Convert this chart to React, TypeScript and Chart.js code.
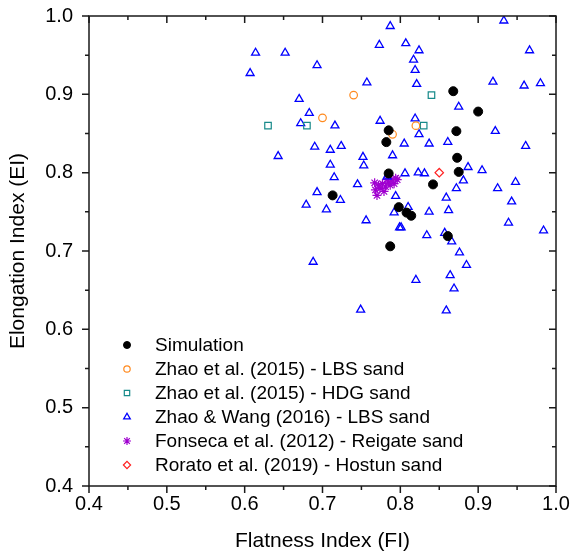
import React, { useEffect, useRef } from 'react';
import { Chart, registerables } from 'chart.js';
import { drawPoint } from 'chart.js/helpers';

Chart.register(...registerables);

// ---- Data ----
const simFI = [0.785, 0.782, 0.868, 0.900, 0.872, 0.873, 0.875, 0.785, 0.842, 0.713, 0.798, 0.808, 0.814, 0.861, 0.787];
const simEI = [0.854, 0.839, 0.904, 0.878, 0.853, 0.819, 0.801, 0.799, 0.785, 0.771, 0.756, 0.749, 0.745, 0.719, 0.706];

const zhaoLbsFI = [0.740, 0.700, 0.820, 0.790];
const zhaoLbsEI = [0.899, 0.870, 0.860, 0.849];

const zhaoHdgFI = [0.630, 0.680, 0.840, 0.830];
const zhaoHdgEI = [0.860, 0.860, 0.899, 0.860];

const zhaoWangFI = [
  0.787, 0.933, 0.773, 0.807, 0.824, 0.966, 0.817, 0.819, 0.821, 0.919,
  0.959, 0.980, 0.875, 0.819, 0.824, 0.922, 0.805, 0.837, 0.861, 0.961,
  0.790, 0.887, 0.905, 0.614, 0.652, 0.693, 0.607, 0.757, 0.670, 0.683,
  0.774, 0.672, 0.716, 0.690, 0.710, 0.724, 0.643, 0.752, 0.710, 0.753,
  0.715, 0.745, 0.693, 0.723, 0.679, 0.705, 0.756, 0.688, 0.749, 0.806,
  0.823, 0.831, 0.881, 0.872, 0.925, 0.948, 0.794, 0.859, 0.943, 0.810,
  0.792, 0.837, 0.862, 0.939, 0.799, 0.801, 0.984, 0.834, 0.857, 0.866,
  0.876, 0.885, 0.864, 0.820, 0.869, 0.859, 0.783,
];
const zhaoWangEI = [
  0.987, 0.994, 0.963, 0.965, 0.956, 0.956, 0.944, 0.931, 0.913, 0.916,
  0.911, 0.914, 0.884, 0.869, 0.849, 0.853, 0.837, 0.837, 0.839, 0.834,
  0.822, 0.807, 0.803, 0.953, 0.953, 0.937, 0.927, 0.915, 0.894, 0.876,
  0.866, 0.863, 0.860, 0.833, 0.829, 0.834, 0.821, 0.820, 0.810, 0.809,
  0.794, 0.785, 0.775, 0.765, 0.759, 0.753, 0.739, 0.686, 0.625, 0.799,
  0.800, 0.799, 0.790, 0.780, 0.780, 0.788, 0.770, 0.768, 0.763, 0.756,
  0.749, 0.750, 0.752, 0.736, 0.730, 0.730, 0.726, 0.720, 0.723, 0.712,
  0.698, 0.682, 0.669, 0.663, 0.652, 0.624, 0.795,
];

const fonsecaFI = [0.768, 0.770, 0.772, 0.777, 0.781, 0.785, 0.789, 0.794, 0.796, 0.779, 0.774, 0.792, 0.783, 0.787, 0.767];
const fonsecaEI = [0.778, 0.771, 0.784, 0.786, 0.782, 0.788, 0.791, 0.793, 0.791, 0.776, 0.780, 0.786, 0.791, 0.784, 0.787];

const roratoFI = [0.850];
const roratoEI = [0.800];

const axisMin = 0.4;
const axisMax = 1.0;
const majorTicks = [0.4, 0.5, 0.6, 0.7, 0.8, 0.9, 1.0];
const minorTicks = [0.45, 0.55, 0.65, 0.75, 0.85, 0.95];

const FONT = "'Liberation Sans', Arial, sans-serif";

const pts = (xs: number[], ys: number[]) => xs.map((x, i) => ({ x, y: ys[i] }));

const framePlugin = {
  id: 'frameTicks',
  afterDraw(chart: any) {
    const { ctx, chartArea, scales } = chart;
    const { left, right, top, bottom } = chartArea;
    const xs = scales.x;
    const ys = scales.y;
    ctx.save();
    ctx.strokeStyle = '#1a1a1a';
    ctx.lineWidth = 1.5;
    ctx.beginPath();
    const tick = (v: number, len: number) => {
      const px = xs.getPixelForValue(v);
      ctx.moveTo(px, bottom); ctx.lineTo(px, bottom + len);
      ctx.moveTo(px, top); ctx.lineTo(px, top + len);
      const py = ys.getPixelForValue(v);
      ctx.moveTo(left, py); ctx.lineTo(left - len, py);
      ctx.moveTo(right, py); ctx.lineTo(right - len, py);
    };
    majorTicks.forEach((v) => tick(v, 7));
    minorTicks.forEach((v) => tick(v, 4));
    ctx.stroke();
    ctx.strokeRect(left, top, right - left, bottom - top);
    ctx.restore();
  },
};

const legendPlugin = {
  id: 'customLegend',
  afterDraw(chart: any) {
    const { ctx, chartArea } = chart;
    const mx = chartArea.left + 38;
    const tx = chartArea.left + 66;
    const y0 = chartArea.top + 329;
    ctx.save();
    chart.data.datasets.forEach((ds: any, i: number) => {
      const y = y0 + i * 24;
      ctx.fillStyle = ds.pointBackgroundColor;
      ctx.strokeStyle = ds.pointBorderColor;
      ctx.lineWidth = ds.pointBorderWidth;
      drawPoint(ctx, { pointStyle: ds.pointStyle, rotation: 0, radius: ds.legendRadius, borderWidth: ds.pointBorderWidth }, mx, y);
      ctx.fillStyle = '#000';
      ctx.font = `19px ${FONT}`;
      ctx.textBaseline = 'middle';
      ctx.textAlign = 'left';
      ctx.fillText(ds.label, tx, y + 1);
    });
    ctx.restore();
  },
};

export default function App() {
  const ref = useRef<HTMLCanvasElement>(null);
  useEffect(() => {
    if (!ref.current) return;
    const chart = new Chart(ref.current, {
      type: 'scatter',
      data: {
        datasets: [
          {
            label: 'Simulation', data: pts(simFI, simEI), pointStyle: 'circle', pointRadius: 4.5,
            pointBorderWidth: 1, pointBackgroundColor: '#000', pointBorderColor: '#000', legendRadius: 3.5,
          } as any,
          {
            label: 'Zhao et al. (2015) - LBS sand', data: pts(zhaoLbsFI, zhaoLbsEI), pointStyle: 'circle', pointRadius: 3.8,
            pointBorderWidth: 1.2, pointBackgroundColor: 'rgba(0,0,0,0)', pointBorderColor: '#FF8A1F', legendRadius: 3.2,
          } as any,
          {
            label: 'Zhao et al. (2015) - HDG sand', data: pts(zhaoHdgFI, zhaoHdgEI), pointStyle: 'rect', pointRadius: 4.6,
            pointBorderWidth: 1.2, pointBackgroundColor: 'rgba(0,0,0,0)', pointBorderColor: '#178A8A', legendRadius: 3.8,
          } as any,
          {
            label: 'Zhao & Wang (2016) - LBS sand', data: pts(zhaoWangFI, zhaoWangEI), pointStyle: 'triangle', pointRadius: 4.6,
            pointBorderWidth: 1.3, pointBackgroundColor: 'rgba(0,0,0,0)', pointBorderColor: '#0000FF', legendRadius: 3.8,
          } as any,
          {
            label: 'Fonseca et al. (2012) - Reigate sand', data: pts(fonsecaFI, fonsecaEI), pointStyle: 'star', pointRadius: 4.5,
            pointBorderWidth: 1.2, pointBackgroundColor: 'rgba(0,0,0,0)', pointBorderColor: '#A000D0', legendRadius: 4,
          } as any,
          {
            label: 'Rorato et al. (2019) - Hostun sand', data: pts(roratoFI, roratoEI), pointStyle: 'rectRot', pointRadius: 4.2,
            pointBorderWidth: 1.2, pointBackgroundColor: 'rgba(0,0,0,0)', pointBorderColor: '#FF2020', legendRadius: 3.6,
          } as any,
        ],
      },
      options: {
        responsive: false,
        animation: false,
        devicePixelRatio: 1,
        layout: { padding: { left: 0, right: 16, top: 16, bottom: 0 } },
        plugins: { legend: { display: false }, tooltip: { enabled: false } },
        events: [],
        scales: {
          x: {
            type: 'linear', min: axisMin, max: axisMax,
            grid: { display: false, drawTicks: false },
            border: { display: false },
            ticks: {
              stepSize: 0.1, padding: 6, color: '#000',
              font: { family: FONT, size: 20 },
              callback: (v: any) => Number(v).toFixed(1),
            },
            title: { display: true, text: 'Flatness Index (FI)', color: '#000', font: { family: FONT, size: 21 }, padding: { top: 0, bottom: 2 } },
            afterFit: (s: any) => { s.height = 70; s.paddingLeft = 0; s.paddingRight = 0; },
          },
          y: {
            type: 'linear', min: axisMin, max: axisMax,
            grid: { display: false, drawTicks: false },
            border: { display: false },
            ticks: {
              stepSize: 0.1, padding: 16, color: '#000',
              font: { family: FONT, size: 20 },
              callback: (v: any) => Number(v).toFixed(1),
            },
            title: { display: true, text: 'Elongation Index (EI)', color: '#000', font: { family: FONT, size: 21 }, padding: { top: 6, bottom: 0 } },
            afterFit: (s: any) => { s.width = 89; s.paddingTop = 0; s.paddingBottom = 0; },
          },
        },
      } as any,
      plugins: [framePlugin, legendPlugin],
    });
    return () => chart.destroy();
  }, []);
  return (
    <div style={{ position: 'fixed', left: 0, top: 0, width: 572, height: 556, background: '#fff' }}>
      <canvas ref={ref} width={572} height={556} style={{ width: 572, height: 556, display: 'block' }} />
    </div>
  );
}
